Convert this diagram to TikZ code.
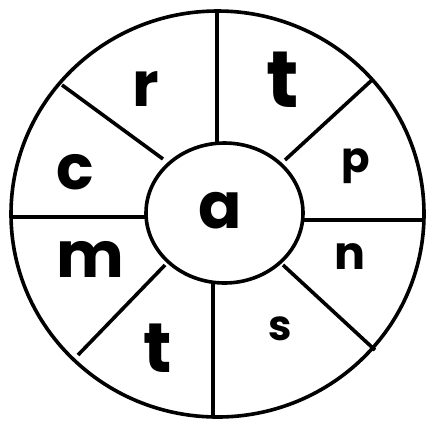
\documentclass[tikz,border=0pt]{standalone}
\usepackage{fontspec}
\setmainfont{Poppins}
\usetikzlibrary{shapes.geometric}
\tikzset{
  ring/.style={draw=black, line width=3.6pt, ellipse, inner sep=0pt, fill=none},
  spoke/.style={draw=black, line width=3.6pt},
  letter/.style={anchor=base, inner sep=0pt, font=\bfseries\fontsize{#1}{#1}\selectfont}
}
\begin{document}
\begin{tikzpicture}[x=1pt, y=-1pt]
\useasboundingbox (0,0) rectangle (427,424);
\fill[white] (0,0) rectangle (427,424);
\node[ring, minimum width=413pt, minimum height=406pt] (outer) at (217.5,214) {};
\node[ring, minimum width=157pt, minimum height=140pt] (inner) at (224.5,213) {};
% spoke end points
\coordinate (t1) at (217,11);   \coordinate (t2) at (217,143);
\coordinate (b1) at (213,417);  \coordinate (b2) at (213,283);
\coordinate (l1) at (11,217);   \coordinate (l2) at (146,217);
\coordinate (r1) at (425,220);  \coordinate (r2) at (303,220);
\coordinate (ul1) at (62,85);   \coordinate (ul2) at (163,159);
\coordinate (ur1) at (372,80);  \coordinate (ur2) at (285,160);
\coordinate (lr1) at (375,350); \coordinate (lr2) at (283,265);
\coordinate (ll1) at (78,355);  \coordinate (ll2) at (165,265);
\draw[spoke] (t1) -- (t2);
\draw[spoke] (b1) -- (b2);
\draw[spoke] (l1) -- (l2);
\draw[spoke] (r1) -- (r2);
\draw[spoke] (ul1) -- (ul2);
\draw[spoke] (ur1) -- (ur2);
\draw[spoke] (lr1) -- (lr2);
\draw[spoke] (ll1) -- (ll2);
% letters
\node[letter=64] (la) at (220,228) {a};
\node[letter=62] (lr) at (146,106) {r};
\node[letter=62] (lc) at (75.5,189) {c};
\node[letter=64] (lm) at (90,277) {m};
\node[letter=80] (lt1) at (283,107) {t};
\node[letter=70] (lt2) at (157.5,372) {t};
\node[letter=42] (lp) at (356,172) {p};
\node[letter=46] (ln) at (350,269) {n};
\node[letter=42] (ls) at (280,340) {s};
\end{tikzpicture}
\end{document}
